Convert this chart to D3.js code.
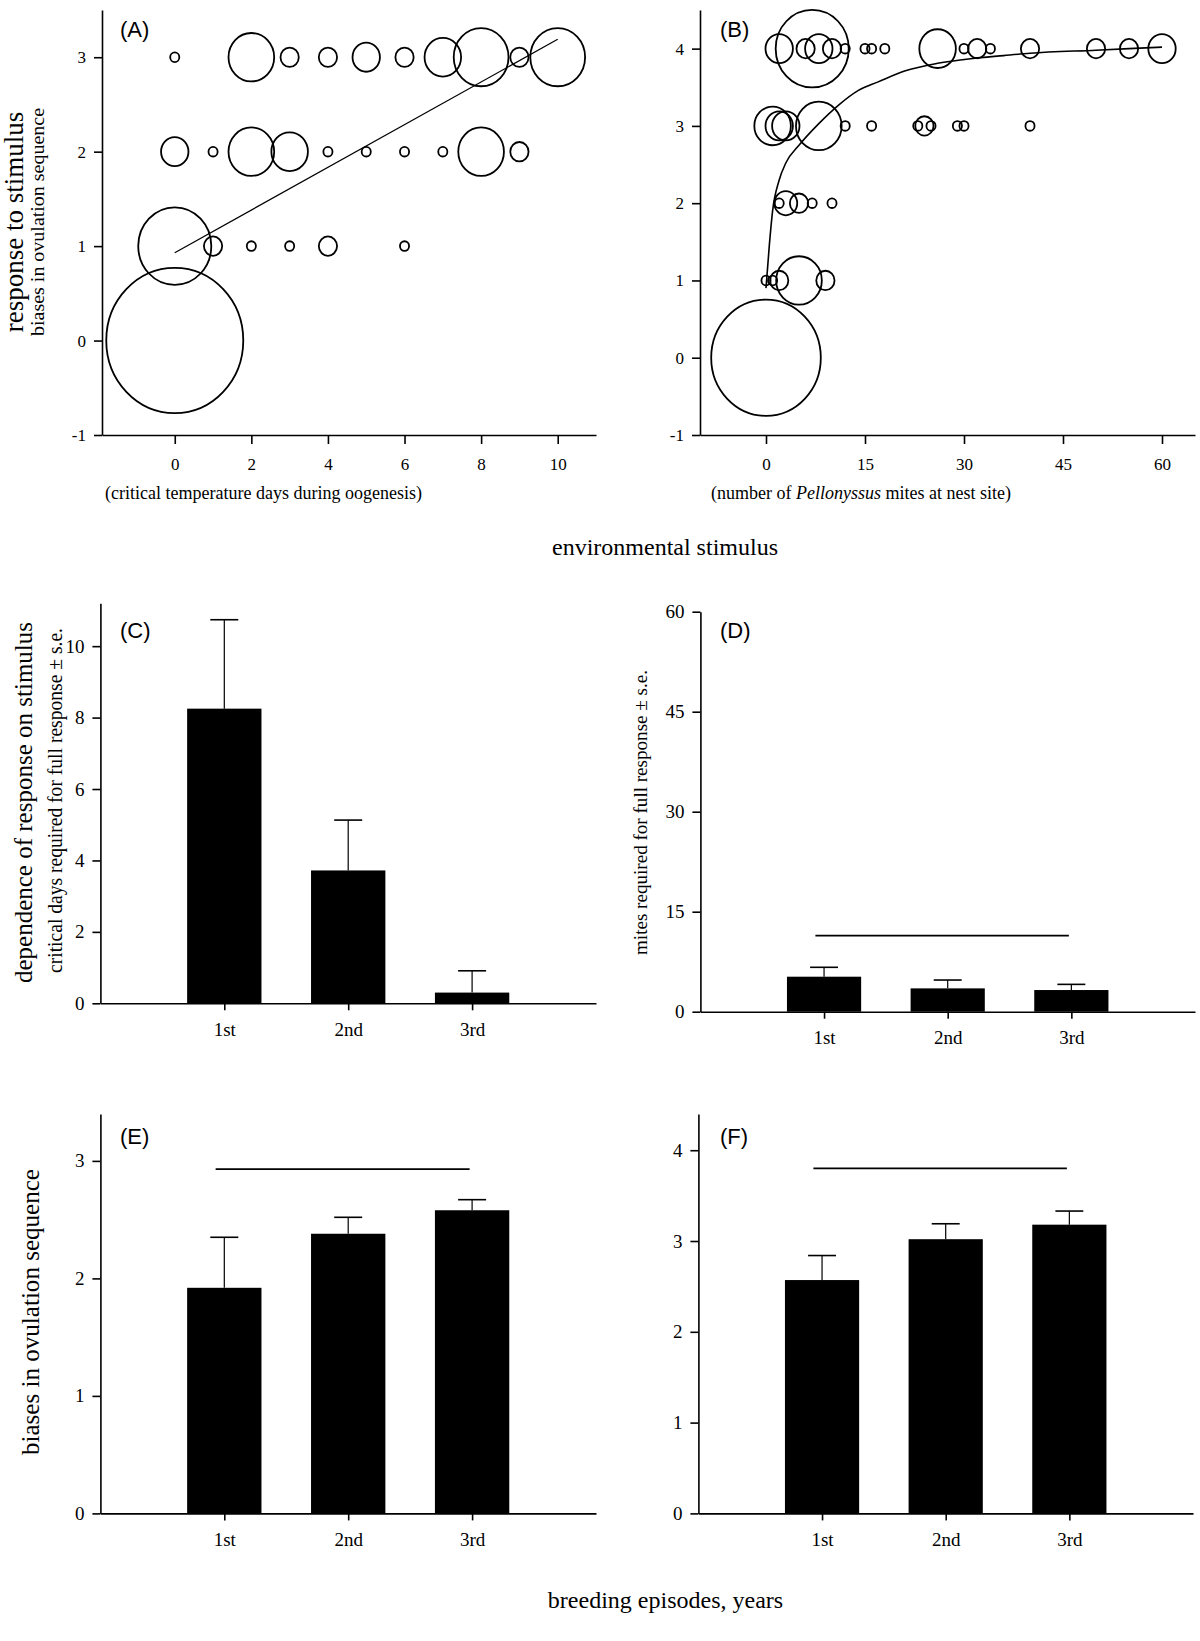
<!DOCTYPE html>
<html>
<head>
<meta charset="utf-8">
<script src="https://cdn.jsdelivr.net/npm/d3@7"></script>
<style>
  body { margin: 0; background: #fff; }
  svg { display: block; }
  text { font-family: "Liberation Serif", "Times New Roman", serif; fill: #000; }
  .tag { font-family: "Liberation Sans", Arial, sans-serif; font-size: 22px; }
</style>
</head>
<body>
<svg width="1200" height="1641"></svg>
<script>
// (A) critical temperature days vs bias in ovulation sequence, [x, y, clutches]
var bubblesA = [
  [0, 3, 1], [2, 3, 5], [3, 3, 2], [4, 3, 2], [5, 3, 3], [6, 3, 2], [7, 3, 4], [8, 3, 6], [9, 3, 2], [10, 3, 6],
  [0, 2, 3], [1, 2, 1], [2, 2, 5], [3, 2, 4], [4, 2, 1], [5, 2, 1], [6, 2, 1], [7, 2, 1], [8, 2, 5], [9, 2, 2],
  [0, 1, 8], [1, 1, 2], [2, 1, 1], [3, 1, 1], [4, 1, 2], [6, 1, 1],
  [0, 0, 15]
];
var fitA = [[0, 0.93], [10, 3.19]];

// (B) mites at nest site vs bias, [x, y, clutches]
var bubblesB = [
  [2, 4, 3], [7, 4, 8], [6, 4, 2], [8, 4, 3], [10, 4, 2], [12, 4, 1], [15, 4, 1], [16, 4, 1], [18, 4, 1],
  [26, 4, 4], [30, 4, 1], [32, 4, 2], [34, 4, 1], [40, 4, 2], [50, 4, 2], [55, 4, 2], [60, 4, 3],
  [1, 3, 4], [2, 3, 3], [3, 3, 3], [8, 3, 5], [12, 3, 1], [16, 3, 1], [23, 3, 1], [24, 3, 2], [25, 3, 1],
  [29, 3, 1], [30, 3, 1], [40, 3, 1],
  [2, 2, 1], [3, 2, 2.5], [5, 2, 2], [7, 2, 1], [10, 2, 1],
  [0, 1, 1], [1, 1, 1], [2, 1, 2], [5, 1, 5], [9, 1, 2],
  [0, 0, 12]
];
var fitB = [[0, 0.9], [0.5, 1.45], [1, 1.9], [2, 2.3], [3, 2.52], [5, 2.75], [8, 3.03], [11, 3.27], [14, 3.46],
  [17, 3.57], [21, 3.71], [26, 3.81], [31, 3.87], [36, 3.91], [40, 3.94], [50, 3.98], [60, 4.02]];

// (C)-(F) bars per breeding episode
var episodes = ["1st", "2nd", "3rd"];
var daysMean = [8.25, 3.72, 0.30], daysSE = [2.49, 1.41, 0.61];
var mitesMean = [5.25, 3.5, 3.25], mitesSE = [1.41, 1.25, 0.85];
var biasTempMean = [1.92, 2.38, 2.58], biasTempSE = [0.43, 0.14, 0.09];
var biasMiteMean = [2.57, 3.02, 3.18], biasMiteSE = [0.27, 0.17, 0.15];
var nsLineD = 11.4, nsLineE = 2.93, nsLineF = 3.8;
var nsSpan = [0.93, 2.98];

var ticksAx = [0, 2, 4, 6, 8, 10], ticksAy = [-1, 0, 1, 2, 3];
var ticksBx = [0, 15, 30, 45, 60], ticksBy = [-1, 0, 1, 2, 3, 4];
var ticksC = [0, 2, 4, 6, 8, 10], ticksD = [0, 15, 30, 45, 60];
var ticksE = [0, 1, 2, 3], ticksF = [0, 1, 2, 3, 4];

var svg = d3.select("svg");
var serif = '"Liberation Serif", "Times New Roman", serif';

// plain integers, ascii hyphen for negatives
var plain = function(d) { return d < 0 ? "-" + Math.abs(d) : String(d); };

function styleAxis(sel, size) {
  sel.attr("font-size", size).attr("font-family", serif);
  sel.selectAll("path, line").attr("stroke", "#000").attr("stroke-width", 1.6);
}

function drawAxes(x, y, xTicks, yTicks, size, xFormat, xTickLen, xPad) {
  var bottom = y.range()[0], left = x.range()[0];
  var ax = d3.axisBottom(x).tickValues(xTicks).tickSize(xTickLen).tickPadding(xPad).tickSizeOuter(0)
    .tickFormat(xFormat || plain);
  svg.append("g").attr("transform", "translate(0," + bottom + ")").call(ax).call(styleAxis, size);
  svg.append("g").attr("transform", "translate(" + left + ",0)")
    .call(d3.axisLeft(y).tickValues(yTicks).tickSize(8).tickPadding(8).tickSizeOuter(0).tickFormat(plain))
    .call(styleAxis, size);
}

function vlabel(txt, x, y, size, len) {
  var t = svg.append("text")
    .attr("transform", "translate(" + x + "," + y + ") rotate(-90)")
    .attr("text-anchor", "middle").attr("font-size", size).text(txt);
  if (len) t.attr("textLength", len).attr("lengthAdjust", "spacingAndGlyphs");
}

function tag(txt, x, y) {
  svg.append("text").attr("class", "tag").attr("x", x).attr("y", y).text(txt);
}

// bubble radius grows linearly with number of clutches
var rSize = d3.scaleLinear().domain([0, 15]).range([0, 68.5]);
var stretch = 1.06;

function bubbles(data, x, y) {
  svg.append("g").selectAll("ellipse").data(data).enter().append("ellipse")
    .attr("cx", function(d) { return x(d[0]); })
    .attr("cy", function(d) { return y(d[1]); })
    .attr("rx", function(d) { return rSize(d[2]); })
    .attr("ry", function(d) { return rSize(d[2]) * stretch; })
    .attr("fill", "none").attr("stroke", "#000").attr("stroke-width", 1.8);
}

// ---- (A)
var xA = d3.scaleLinear().domain([-1.9, 11]).range([102, 596]);
var yA = d3.scaleLinear().domain([-1, 3.5]).range([435, 10]);
drawAxes(xA, yA, ticksAx, ticksAy, 17, null, 9, 14);
bubbles(bubblesA, xA, yA);
svg.append("path").datum(fitA)
  .attr("fill", "none").attr("stroke", "#000").attr("stroke-width", 1.2)
  .attr("d", d3.line().x(function(d) { return xA(d[0]); }).y(function(d) { return yA(d[1]); }));
tag("(A)", 120, 37);
svg.append("text").attr("x", 105).attr("y", 499).attr("font-size", 18)
  .text("(critical temperature days during oogenesis)");
vlabel("response to stimulus", 23, 222, 27);
vlabel("biases in ovulation sequence", 44, 222, 19, 228);

// ---- (B)
var xB = d3.scaleLinear().domain([-10, 65]).range([700, 1195]);
var yB = d3.scaleLinear().domain([-1, 4.5]).range([435, 10]);
drawAxes(xB, yB, ticksBx, ticksBy, 17, null, 9, 14);
bubbles(bubblesB, xB, yB);
svg.append("path").datum(fitB)
  .attr("fill", "none").attr("stroke", "#000").attr("stroke-width", 1.6)
  .attr("d", d3.line().x(function(d) { return xB(d[0]); }).y(function(d) { return yB(d[1]); })
    .curve(d3.curveMonotoneX));
tag("(B)", 720, 37);
var lb = svg.append("text").attr("x", 711).attr("y", 499).attr("font-size", 18);
lb.append("tspan").text("(number of ");
lb.append("tspan").attr("font-style", "italic").text("Pellonyssus");
lb.append("tspan").text(" mites at nest site)");

svg.append("text").attr("x", 665).attr("y", 555).attr("text-anchor", "middle")
  .attr("font-size", 24).text("environmental stimulus");

// ---- bar panels
function barPanel(mean, se, yTicks, yMax, left, right, top, bottom, nsLine) {
  var x = d3.scaleLinear().domain([0, 4]).range([left, right]);
  var y = d3.scaleLinear().domain([0, yMax]).range([bottom, top]);
  var bw = (x(1) - x(0)) * 0.6;
  var cap = (x(1) - x(0)) * 0.113;
  var g = svg.append("g");

  g.selectAll("line.err").data(mean).enter().append("line")
    .attr("x1", function(d, i) { return x(i + 1); })
    .attr("x2", function(d, i) { return x(i + 1); })
    .attr("y1", function(d) { return y(d); })
    .attr("y2", function(d, i) { return y(d + se[i]); })
    .attr("stroke", "#000").attr("stroke-width", 1.2);
  g.selectAll("line.cap").data(mean).enter().append("line")
    .attr("x1", function(d, i) { return x(i + 1) - cap; })
    .attr("x2", function(d, i) { return x(i + 1) + cap; })
    .attr("y1", function(d, i) { return y(d + se[i]); })
    .attr("y2", function(d, i) { return y(d + se[i]); })
    .attr("stroke", "#000").attr("stroke-width", 1.6);
  g.selectAll("rect").data(mean).enter().append("rect")
    .attr("x", function(d, i) { return x(i + 1) - bw / 2; })
    .attr("y", function(d) { return y(d); })
    .attr("width", bw)
    .attr("height", function(d) { return y(0) - y(d); })
    .attr("fill", "#000");

  if (nsLine != null) {
    g.append("line")
      .attr("x1", x(nsSpan[0])).attr("x2", x(nsSpan[1]))
      .attr("y1", y(nsLine)).attr("y2", y(nsLine))
      .attr("stroke", "#000").attr("stroke-width", 1.8);
  }

  drawAxes(x, y, [1, 2, 3], yTicks, 19, function(d) { return episodes[d - 1]; }, 7, 12);
}

// (C)
barPanel(daysMean, daysSE, ticksC, 11.2, 100.4, 596, 603.3, 1003.3, null);
tag("(C)", 120, 638);
vlabel("dependence of response on stimulus", 31.5, 802.5, 25);
vlabel("critical days required for full response \u00b1 s.e.", 61.5, 800.5, 20, 345);

// (D)
barPanel(mitesMean, mitesSE, ticksD, 60, 700.4, 1195, 611.7, 1011.7, nsLineD);
tag("(D)", 720, 638);
vlabel("mites required for full response \u00b1 s.e.", 647, 812.5, 19, 285);

// (E)
barPanel(biasTempMean, biasTempSE, ticksE, 3.4, 100.4, 596, 1113.9, 1513.4, nsLineE);
tag("(E)", 120, 1144);
vlabel("biases in ovulation sequence", 39, 1312, 25, 286);

// (F)
barPanel(biasMiteMean, biasMiteSE, ticksF, 4.4, 698.4, 1193, 1113.9, 1513.4, nsLineF);
tag("(F)", 720, 1144);

svg.append("text").attr("x", 665.5).attr("y", 1608).attr("text-anchor", "middle")
  .attr("font-size", 24).text("breeding episodes, years");
</script>
</body>
</html>
